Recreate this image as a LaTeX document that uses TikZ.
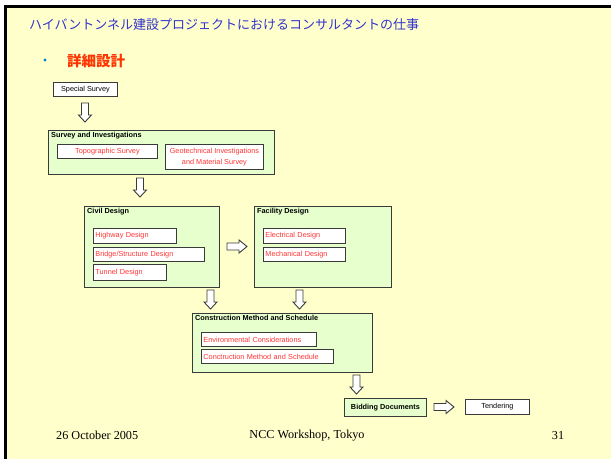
\documentclass[tikz,border=0pt]{standalone}
\usepackage{fontspec}
\setmainfont{Liberation Serif}
\setsansfont{Liberation Sans}
\newfontfamily\jpfont{Noto Sans CJK JP}
\usetikzlibrary{shadows}
\definecolor{bgyellow}{HTML}{FFFFCC}
\definecolor{boxgreen}{HTML}{E6FFCC}
\definecolor{txtred}{HTML}{FF3333}
\definecolor{titleblue}{HTML}{3333CC}
\definecolor{bulletblue}{HTML}{0086C6}
\definecolor{headred}{HTML}{FF3300}
\definecolor{edge}{HTML}{3A3A3A}
\begin{document}
\begin{tikzpicture}[x=1pt,y=-1pt,
  greenbox/.style={draw=edge, line width=0.9pt, fill=boxgreen, anchor=north west, inner sep=0pt},
  whitebox/.style={draw=edge, line width=0.9pt, fill=white, anchor=north west, inner sep=0pt,
    drop shadow={shadow xshift=0.7pt, shadow yshift=-0.7pt, fill=edge, opacity=1},
    font=\sffamily\fontsize{7.3}{10.5}\selectfont},
  redtxt/.style={whitebox, text=txtred, align=center},
  redleft/.style={whitebox, text=txtred, align=left, inner xsep=2pt},
  grouplabel/.style={anchor=north west, inner sep=0pt, font=\sffamily\bfseries\fontsize{7.3}{8.5}\selectfont},
  arrowline/.style={draw=edge, line width=0.9pt, fill=white, line join=miter},
  dnarrow/.pic={\path[arrowline] (-3.5,0) -- (3.5,0) -- (3.5,12) -- (6.5,12) -- (0,19) -- (-6.5,12) -- (-3.5,12) -- cycle;},
  rtarrow/.pic={\path[arrowline] (0,-3.5) -- (12,-3.5) -- (12,-6.5) -- (20,0) -- (12,6.5) -- (12,3.5) -- (0,3.5) -- cycle;},
  footer/.style={inner sep=0pt, font=\fontsize{12.2}{14}\selectfont}]
\useasboundingbox (0,0) rectangle (611,459);
\fill[white] (0,0) rectangle (611,459);
\fill[bgyellow] (4,5) rectangle (611,459);
\draw[line width=3pt] (4,6.5) -- (611,6.5);
\draw[line width=3pt] (5.5,5) -- (5.5,459);
% title
\node[anchor=west, inner sep=0pt, text=titleblue, font=\jpfont\fontsize{13}{15}\selectfont] (title) at (29,25) {ハイバントンネル建設プロジェクトにおけるコンサルタントの仕事};
\node[circle, fill=bulletblue, inner sep=0pt, minimum size=3.4pt] (bullet) at (45,60) {};
\node[anchor=west, inner sep=0pt, text=headred, font=\jpfont\bfseries\fontsize{14.5}{16}\selectfont] (head) at (67,60.5) {詳細設計};
% special survey
\node[whitebox, minimum width=64pt, minimum height=14pt] (special) at (53,82) {Special Survey};
\pic at (85,103) {dnarrow};
% survey group
\node[greenbox, minimum width=226pt, minimum height=44pt] (survey) at (48,130) {};
\node[grouplabel] (surveyl) at (51,132) {Survey and Investigations};
\node[redtxt, minimum width=100pt, minimum height=14pt] (topo) at (57,144) {Topographic Survey};
\node[redtxt, minimum width=98pt, minimum height=25pt] (geo) at (165,144) {Geotechnical Investigations\\and Material Survey};
\pic at (140,178) {dnarrow};
% civil
\node[greenbox, minimum width=135pt, minimum height=81pt] (civil) at (84,206) {};
\node[grouplabel] (civill) at (87,208) {Civil Design};
\node[redleft, text width=79pt, minimum height=15pt] (hw) at (93,228) {Highway Design};
\node[redleft, text width=107pt, minimum height=14pt] (br) at (93,247) {Bridge/Structure Design};
\node[redleft, text width=69pt, minimum height=16pt] (tu) at (93,264) {Tunnel Design};
\pic at (227,246.5) {rtarrow};
% facility
\node[greenbox, minimum width=137pt, minimum height=81pt] (fac) at (254,206) {};
\node[grouplabel] (facl) at (257,208) {Facility Design};
\node[redleft, text width=78pt, minimum height=15pt] (el) at (263,228) {Electrical Design};
\node[redleft, text width=78pt, minimum height=14pt] (me) at (263,247) {Mechanical Design};
\pic at (210.5,290) {dnarrow};
\pic at (299.5,290) {dnarrow};
% construction
\node[greenbox, minimum width=180pt, minimum height=59pt] (cons) at (192,313) {};
\node[grouplabel] (consl) at (195,315) {Construction Method and Schedule};
\node[redleft, text width=111pt, minimum height=14pt] (env) at (201,332) {Environmental Considerations};
\node[redleft, text width=128pt, minimum height=14pt] (cms) at (201,349) {Conctruction Method and Schedule};
\pic at (356.5,375) {dnarrow};
% bidding
\node[greenbox, minimum width=82pt, minimum height=18pt, font=\sffamily\bfseries\fontsize{7.3}{8.5}\selectfont] (bid) at (344,398) {Bidding Documents};
\pic at (434,407) {rtarrow};
\node[whitebox, minimum width=64pt, minimum height=15pt] (tend) at (465,399) {Tendering};
% footer
\node[footer, anchor=west] (date) at (56,435.5) {26 October 2005};
\node[footer] (venue) at (307,435.5) {NCC Workshop, Tokyo};
\node[footer] (page) at (558,435.5) {31};
\end{tikzpicture}
\end{document}
